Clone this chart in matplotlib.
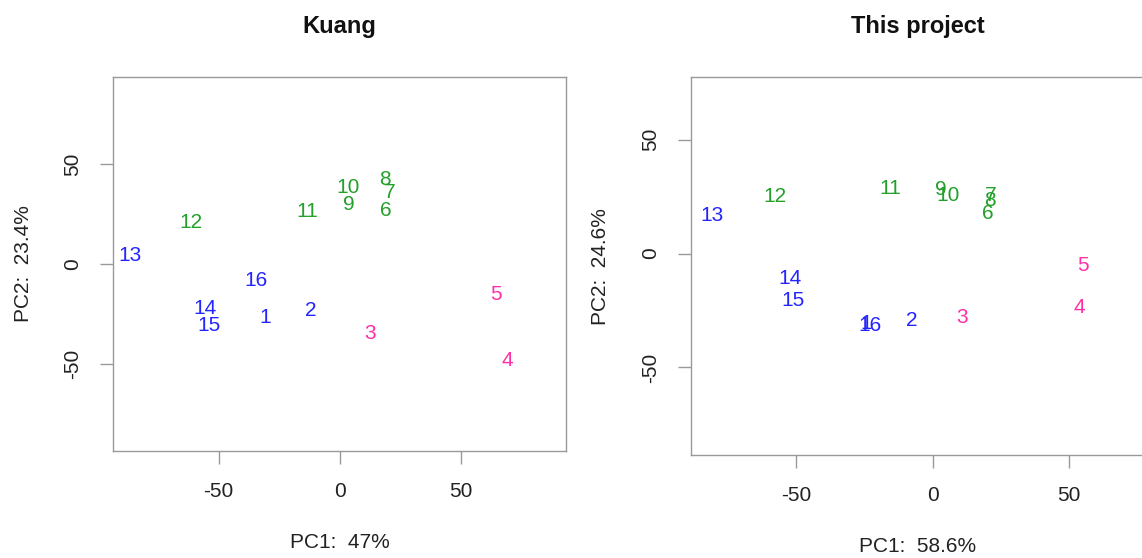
import matplotlib
matplotlib.use("Agg")
import matplotlib.pyplot as plt

plt.rcParams['font.family'] = ['Liberation Sans', 'DejaVu Sans']
plt.rcParams['axes.unicode_minus'] = False

# sample ids and their group colour
samples = [str(i) for i in range(1, 17)]
groups = ['b', 'b', 'p', 'p', 'p', 'g', 'g', 'g', 'g', 'g', 'g', 'g', 'b', 'b', 'b', 'b']
group_colors = {'b': '#2424FF', 'g': '#22A02A', 'p': '#FF2FA8'}

# Kuang PCA coordinates
kuang_pc1 = [-30.6, -11.8, 12.4, 69.3, 64.7, 19.2, 20.7, 18.9, 3.8, 3.5, -13.4, -61.3, -86.8, -55.6, -53.8, -34.6]
kuang_pc2 = [-26.7, -23.3, -35.0, -48.3, -15.3, 26.7, 35.8, 42.5, 30.0, 38.3, 26.2, 20.5, 4.2, -22.5, -30.8, -8.3]

# this project PCA coordinates
proj_pc1 = [-24.5, -7.6, 10.7, 53.7, 55.1, 20.4, 21.3, 21.1, 2.8, 5.7, -15.6, -57.9, -80.9, -52.3, -51.3, -22.9]
proj_pc2 = [-30.8, -29.4, -28.2, -23.5, -5.1, 17.8, 25.7, 23.2, 28.0, 25.7, 28.8, 25.1, 16.6, -11.0, -20.6, -31.6]

panels = [
    dict(title='Kuang', x=kuang_pc1, y=kuang_pc2, xlab='PC1:  47%', ylab='PC2:  23.4%',
         lim=(-93.6, 93.6), rect=[0.099, 0.192, 0.3967, 0.670],
         xlab_y=-0.219, ylab_x=-0.177),
    dict(title='This project', x=proj_pc1, y=proj_pc2, xlab='PC1:  58.6%', ylab='PC2:  24.6%',
         lim=(-88.5, 77.5), rect=[0.6055, 0.1846, 0.3962, 0.677],
         xlab_y=-0.217, ylab_x=-0.18),
]

fig = plt.figure(figsize=(11.42, 5.58), dpi=100)

for p in panels:
    ax = fig.add_axes(p['rect'])
    for lab, xv, yv, g in zip(samples, p['x'], p['y'], groups):
        ax.text(xv, yv, lab, color=group_colors[g], fontsize=15,
                ha='center', va='center')
    ax.set_xlim(p['lim'])
    ax.set_ylim(p['lim'])
    ax.set_xticks([-50, 0, 50])
    ax.set_yticks([-50, 0, 50])
    ax.tick_params(direction='out', length=9.5, width=1, color='#999999',
                   labelsize=15, pad=13, labelcolor='#222222')
    for lbl in ax.get_yticklabels():
        lbl.set_rotation(90)
        lbl.set_va('center')
    for sp in ax.spines.values():
        sp.set_color('#999999')
        sp.set_linewidth(1)
    ax.set_xlabel(p['xlab'], fontsize=15, color='#222222')
    ax.set_ylabel(p['ylab'], fontsize=15, color='#222222')
    ax.xaxis.set_label_coords(0.5, p['xlab_y'])
    ax.yaxis.set_label_coords(p['ylab_x'], 0.5)
    ax.text(0.5, 1.135, p['title'], transform=ax.transAxes, ha='center', va='center',
            fontsize=17, fontweight='bold', color='#111111')

fig.savefig('out.png', dpi=100)
